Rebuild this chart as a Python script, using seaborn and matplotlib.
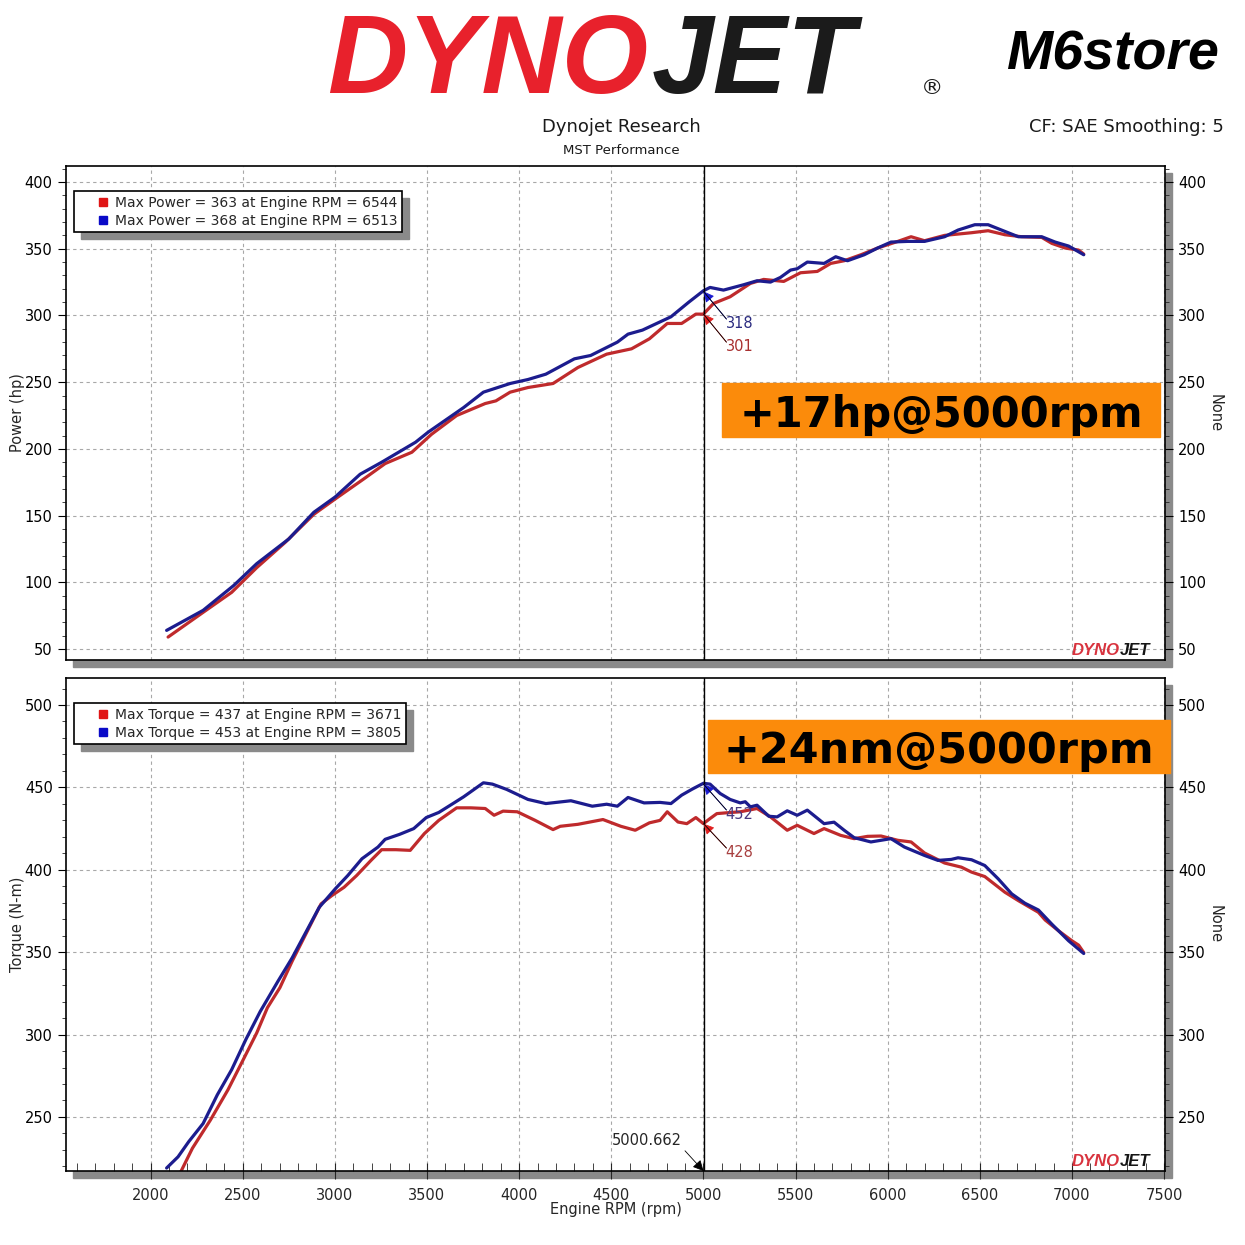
import pandas as pd
import seaborn as sns
import matplotlib.pyplot as plt
from matplotlib.lines import Line2D
from matplotlib.patches import Rectangle
from matplotlib.ticker import MultipleLocator

# power runs (hp)
rpm_hp_red = [2095, 2285, 2440, 2576, 2731, 2886, 3002, 3157, 3273, 3418, 3525, 3661, 3816, 3874, 3951,
              4048, 4184, 4319, 4475, 4610, 4707, 4804, 4882, 4959, 5000, 5055, 5145, 5255, 5327, 5436,
              5527, 5618, 5691, 5764, 5855, 5945, 6055, 6127, 6200, 6309, 6455, 6545, 6636, 6727, 6836,
              6891, 6964, 7036, 7064]
hp_red = [59, 77.5, 92.5, 111, 130, 151, 162.5, 177.5, 189, 197.5, 211, 225, 234, 236, 242.5,
          246, 249, 261, 271, 275, 282.5, 294, 294, 301, 301, 309, 314, 324, 327, 325.5,
          332, 333, 339, 341, 345.5, 350.5, 355.5, 359, 356, 360, 362, 363.5, 360.5, 359, 358.5,
          354, 350.5, 349, 346]
rpm_hp_blue = [2087, 2285, 2450, 2576, 2750, 2886, 3002, 3137, 3254, 3438, 3506, 3699, 3806, 3951, 4048,
               4145, 4300, 4388, 4533, 4591, 4669, 4824, 4921, 5000, 5036, 5109, 5218, 5291, 5364, 5418,
               5473, 5509, 5564, 5655, 5718, 5782, 5873, 5945, 6018, 6109, 6200, 6309, 6382, 6473, 6545,
               6636, 6709, 6836, 6909, 6982, 7064]
hp_blue = [64, 79, 97.5, 114, 132.5, 152.5, 164, 181, 190, 205, 212.5, 231, 242.5, 249, 252,
           256, 267.5, 270, 280, 286, 289, 299, 310, 318.5, 321, 319, 323, 326, 325, 328.5,
           334, 335, 340, 339, 344, 341, 345.5, 350.5, 355, 355.5, 355.5, 359, 364, 368, 368,
           363, 359, 359, 355, 352, 345.5]

# torque runs (N-m)
rpm_tq_red = [2159, 2227, 2324, 2420, 2498, 2576, 2634, 2702, 2769, 2847, 2925, 2983, 3050, 3118, 3196,
              3254, 3331, 3409, 3486, 3564, 3661, 3738, 3816, 3864, 3913, 3990, 4087, 4184, 4223, 4319,
              4455, 4552, 4630, 4707, 4765, 4804, 4862, 4910, 4959, 5000, 5036, 5073, 5127, 5200, 5291,
              5364, 5455, 5509, 5600, 5655, 5745, 5818, 5891, 5964, 6055, 6127, 6200, 6309, 6400, 6455,
              6527, 6636, 6709, 6818, 6855, 6927, 7000, 7036, 7064]
tq_red = [215.6, 231, 248, 266.5, 283.7, 301, 316.3, 328.5, 344.7, 362, 379.3, 384.3, 389.4, 396.5, 405.7,
          412.2, 412.2, 411.8, 422, 430, 437.6, 437.6, 437.2, 433.1, 435.6, 435.2, 430, 424.4, 426.4, 427.6,
          430.5, 426.4, 424, 428.5, 430, 435.2, 429, 428, 431.7, 428, 431.1, 434.1, 434.6, 435.2, 437.2,
          432.1, 424, 427, 422, 425, 420.9, 418.9, 420.3, 420.5, 417.9, 416.9, 410.2, 404.1, 401.6, 398.6,
          395.9, 386.4, 381.3, 374.2, 369.5, 363, 356.9, 354.3, 349.8]
rpm_tq_blue = [2087, 2149, 2207, 2285, 2362, 2440, 2517, 2595, 2692, 2769, 2847, 2915, 3002, 3070, 3147,
               3234, 3273, 3351, 3428, 3496, 3564, 3641, 3699, 3806, 3855, 3932, 4048, 4145, 4281, 4397,
               4475, 4533, 4591, 4678, 4765, 4824, 4882, 4940, 5000, 5036, 5091, 5145, 5200, 5227, 5255,
               5291, 5355, 5400, 5455, 5509, 5564, 5655, 5709, 5764, 5818, 5909, 6018, 6091, 6200, 6273,
               6345, 6382, 6455, 6527, 6600, 6673, 6745, 6818, 6891, 6982, 7064]
tq_blue = [219, 225.8, 235, 246, 263.4, 278.7, 297, 314, 332.5, 346.7, 363, 377.2, 388.4, 396.5, 406.7,
           413.8, 418.5, 421.5, 425, 431.7, 434.8, 440.2, 444.3, 452.8, 452, 448.8, 442.7, 440.2, 441.9, 438.6,
           439.8, 438.6, 443.9, 440.6, 440.9, 440.2, 445.3, 449, 452.5, 452, 446.3, 442.7, 440.6, 441.3, 438.2,
           439.2, 432.5, 432.1, 435.8, 433.1, 436.2, 428, 428.9, 424, 419.5, 416.9, 418.9, 413.8, 408.7, 405.7,
           406.3, 407.3, 406.1, 402.6, 394.5, 385.4, 379.7, 375.6, 367, 356.9, 349.2]

power_legend = ["Max Power = 363 at Engine RPM = 6544", "Max Power = 368 at Engine RPM = 6513"]
torque_legend = ["Max Torque = 437 at Engine RPM = 3671", "Max Torque = 453 at Engine RPM = 3805"]
cursor_rpm = 5000.662
power_at_cursor = [301, 318]
torque_at_cursor = [428, 452]

RED = "#bf2a2c"
BLUE = "#1c1c8e"

df_hp = pd.concat([pd.DataFrame({"rpm": rpm_hp_red, "val": hp_red, "run": "run1"}),
                   pd.DataFrame({"rpm": rpm_hp_blue, "val": hp_blue, "run": "run2"})])
df_tq = pd.concat([pd.DataFrame({"rpm": rpm_tq_red, "val": tq_red, "run": "run1"}),
                   pd.DataFrame({"rpm": rpm_tq_blue, "val": tq_blue, "run": "run2"})])
pal = {"run1": RED, "run2": BLUE}

sns.set_style("white")
plt.rcParams["font.family"] = ["DejaVu Sans"]
LOGO_FONT = ["Liberation Sans", "DejaVu Sans"]

W = 1245
fig = plt.figure(figsize=(12.45, 12.45), dpi=100)


def fx(px):
    return px / W


def fy(py):
    return 1 - py / W


ax1 = fig.add_axes([fx(66), fy(660), (1165 - 66) / W, (660 - 166) / W])
ax2 = fig.add_axes([fx(66), fy(1171), (1165 - 66) / W, (1171 - 678) / W])

# drop shadows behind the two plot panels
for top, bot in [(166, 660), (678, 1171)]:
    fig.add_artist(Rectangle((fx(73), fy(bot + 7)), (1165 - 66) / W, (bot - top) / W,
                             transform=fig.transFigure, color="#8a8a8a", zorder=-1))

sns.lineplot(data=df_hp, x="rpm", y="val", hue="run", palette=pal, ax=ax1,
             legend=False, lw=2.3, estimator=None, sort=False)
sns.lineplot(data=df_tq, x="rpm", y="val", hue="run", palette=pal, ax=ax2,
             legend=False, lw=2.3, estimator=None, sort=False)

ax1.set_ylim(41.8, 412)
ax2.set_ylim(217.2, 516.4)
for ax in (ax1, ax2):
    ax.set_xlim(1541, 7505)
    ax.set_facecolor("white")
    for s in ax.spines.values():
        s.set_color("black")
        s.set_linewidth(1.2)
    ax.xaxis.set_major_locator(MultipleLocator(500))
    ax.xaxis.set_minor_locator(MultipleLocator(100))
    ax.yaxis.set_major_locator(MultipleLocator(50))
    ax.yaxis.set_minor_locator(MultipleLocator(10))
    ax.grid(True, which="major", color="#a8a8a8", linestyle=(0, (3, 3)), lw=0.8)
    ax.tick_params(axis="y", which="major", direction="out", length=6, left=True, right=True,
                   labelleft=True, labelright=True, labelsize=10.5, colors="black")
    ax.tick_params(axis="y", which="minor", direction="out", length=3, left=True, right=True)
    ax.axvline(cursor_rpm, color="black", lw=1, zorder=3)
    ax.set_xlabel("")

ax1.tick_params(axis="x", which="both", bottom=False, labelbottom=False)
ax2.tick_params(axis="x", which="major", direction="inout", length=12, bottom=True, labelsize=10.5, pad=6)
ax2.tick_params(axis="x", which="minor", direction="in", length=6, bottom=True)

ax1.set_ylabel("Power (hp)", fontsize=10.5)
ax2.set_ylabel("Torque (N-m)", fontsize=10.5)
ax1.yaxis.set_label_coords(-0.037, 0.5)
ax2.yaxis.set_label_coords(-0.037, 0.5)
ax2.set_xlabel("Engine RPM (rpm)", fontsize=10.5)
ax2.xaxis.set_label_coords(0.5, -0.062)
for ax in (ax1, ax2):
    ax.text(1.0455, 0.5, "None", rotation=-90, transform=ax.transAxes, ha="center", va="center",
            fontsize=10.5)

# cursor read-outs
def cursor_note(ax, y, ytext, label, head_col, text_col):
    ax.annotate("", xy=(cursor_rpm, y), xytext=(5125, ytext + 3),
                arrowprops=dict(arrowstyle="-|>", color=head_col, lw=0.6, mutation_scale=16,
                                shrinkA=0, shrinkB=0), zorder=6)
    ax.annotate("", xy=(cursor_rpm, y), xytext=(5125, ytext + 3),
                arrowprops=dict(arrowstyle="-", color="black", lw=0.6, shrinkA=0, shrinkB=0), zorder=6)
    ax.text(5120, ytext, label, color=text_col, fontsize=10.5, va="center", ha="left", zorder=6)


cursor_note(ax1, power_at_cursor[1], 294.3, str(power_at_cursor[1]), "#1a1ad0", "#2b2b80")
cursor_note(ax1, power_at_cursor[0], 277.0, str(power_at_cursor[0]), "#e02020", "#a83030")
cursor_note(ax2, torque_at_cursor[1], 433.3, str(torque_at_cursor[1]), "#1a1ad0", "#4a3a80")
cursor_note(ax2, torque_at_cursor[0], 410.2, str(torque_at_cursor[0]), "#e02020", "#a84040")

ax2.annotate(f"{cursor_rpm:.3f}", xy=(cursor_rpm, 217.2), xytext=(4694, 236),
             ha="center", va="center", fontsize=10.5,
             arrowprops=dict(arrowstyle="-|>", color="black", lw=0.6, mutation_scale=16,
                             shrinkA=0, shrinkB=0, relpos=(1, 0)))

# legends with square markers
legs = []
for ax, labels in [(ax1, power_legend), (ax2, torque_legend)]:
    handles = [Line2D([], [], marker="s", ls="", color=c, markersize=6) for c in ("#e01515", "#0a0ac8")]
    leg = ax.legend(handles, labels, loc="upper left", bbox_to_anchor=(0.007, 0.949), borderaxespad=0,
                    fancybox=False, framealpha=1, edgecolor="black", fontsize=10,
                    handlelength=3.6, handletextpad=-0.95, labelspacing=0.3, borderpad=0.32)
    leg.get_frame().set_linewidth(1.2)
    leg.set_zorder(8)
    legs.append((ax, leg))

# little DYNOJET marks in the corner of each panel
for ax in (ax1, ax2):
    ax.text(0.959, 0.004, "DYNO", transform=ax.transAxes, ha="right", va="bottom", fontsize=12,
            fontweight="bold", fontstyle="italic", color="#d8333e", zorder=7, family=LOGO_FONT)
    ax.text(0.959, 0.004, "JET", transform=ax.transAxes, ha="left", va="bottom", fontsize=12,
            fontweight="bold", fontstyle="italic", color="#151515", zorder=7, family=LOGO_FONT)

# orange callouts
for (x0, y0, x1, y1), txt, fs in [((722, 383, 1160, 437), "+17hp@5000rpm", 30),
                                  ((708, 720, 1170, 773), "+24nm@5000rpm", 31)]:
    fig.add_artist(Rectangle((fx(x0), fy(y1)), (x1 - x0) / W, (y1 - y0) / W,
                             transform=fig.transFigure, color="#fb8b0b", zorder=5))
    fig.text(fx((x0 + x1) / 2), fy((y0 + y1) / 2), txt, ha="center", va="center_baseline",
             fontsize=fs, fontweight="heavy", color="black", zorder=6)

# header
fig.text(fx(648), fy(93), "DYNO", ha="right", va="baseline", fontsize=80, fontweight="bold",
         fontstyle="italic", color="#e8212c", family=LOGO_FONT)
fig.text(fx(652), fy(93), "JET", ha="left", va="baseline", fontsize=80, fontweight="bold",
         fontstyle="italic", color="#1b1b1b", family=LOGO_FONT)
fig.text(fx(932), fy(88), "®", ha="center", va="center", fontsize=16, color="#1b1b1b")
fig.text(fx(1112), fy(70), "M6store", ha="center", va="baseline", fontsize=40, fontweight="bold",
         fontstyle="italic", color="black", family=LOGO_FONT)
fig.text(fx(621), fy(127), "Dynojet Research", ha="center", va="center", fontsize=13, color="#1a1a1a")
fig.text(fx(621), fy(150), "MST Performance", ha="center", va="center", fontsize=9.5, color="#1a1a1a")
fig.text(fx(1224), fy(127), "CF: SAE Smoothing: 5", ha="right", va="center", fontsize=13, color="#1a1a1a")

# gray drop shadow for the legend boxes
fig.canvas.draw()
for ax, leg in legs:
    bb = leg.get_window_extent().transformed(ax.transAxes.inverted())
    dx = 7 / ax.bbox.width
    dy = 7 / ax.bbox.height
    ax.add_patch(Rectangle((bb.x0 + dx, bb.y0 - dy), bb.width, bb.height, transform=ax.transAxes,
                           color="#8a8a8a", zorder=7.5, clip_on=False))

plt.savefig("out.png", dpi=100)
